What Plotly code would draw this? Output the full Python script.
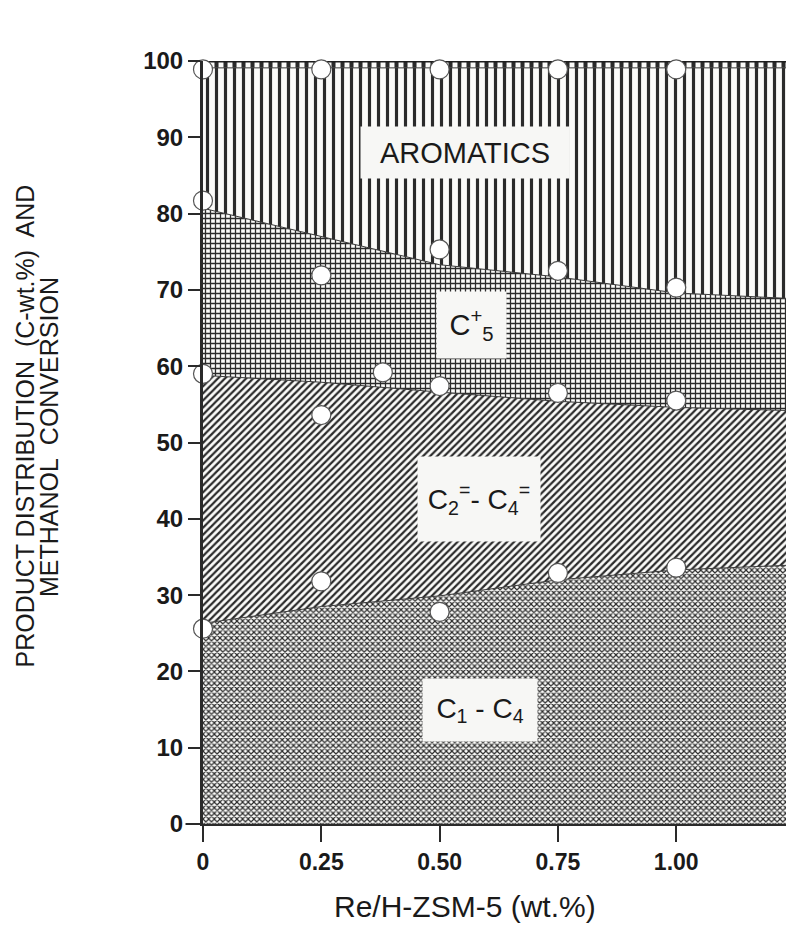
import plotly.graph_objects as go

# ---------------- data ----------------
# smooth boundary curves between product regions (C-wt.%)
x_bound = [0, 0.25, 0.50, 0.75, 1.00, 1.232]
c1c4_top = [26.3, 28.5, 29.9, 32.0, 33.3, 33.9]
c2c4_top = [58.8, 57.9, 56.6, 55.4, 54.6, 54.2]
c5_top = [80.7, 77.0, 73.3, 71.7, 69.6, 68.9]
arom_top = [99.1, 99.1, 99.1, 99.1, 99.1, 99.1]
co2_top = [100, 100, 100, 100, 100, 100]

# measured points
x_pts = [0, 0.25, 0.50, 0.75, 1.00]
pts_arom = [98.9, 98.9, 98.9, 98.9, 98.9]
pts_c5 = [81.7, 71.9, 75.3, 72.5, 70.3]
x_pts_c2 = [0, 0.25, 0.38, 0.50, 0.75, 1.00]
pts_c2 = [59.0, 53.6, 59.2, 57.4, 56.5, 55.5]
pts_c1 = [25.6, 31.8, 27.8, 32.9, 33.6]

x_ticks = [0, 0.25, 0.50, 0.75, 1.00]
x_ticklabels = ["0", "0.25", "0.50", "0.75", "1.00"]
y_ticks = [0, 10, 20, 30, 40, 50, 60, 70, 80, 90, 100]

FG = "#2b2b2b"
BG = "#fbfbf9"
LINE = "#3a3a3a"

fig = go.Figure()

def band(y, fill, shape, size, solidity, name):
    fig.add_trace(go.Scatter(
        x=x_bound, y=y, mode="lines", fill=fill, name=name,
        line=dict(color=LINE, width=1),
        fillcolor=BG,
        fillpattern=dict(shape=shape, size=size, solidity=solidity,
                         fgcolor=FG, bgcolor=BG, fillmode="replace"),
        showlegend=False, hoverinfo="skip"))

band(c1c4_top, "tozeroy", "x", 4, 0.5, "C1-C4")
band(c2c4_top, "tonexty", "/", 5, 0.45, "C2=-C4=")
band(c5_top, "tonexty", "+", 5, 0.45, "C5+")
band(arom_top, "tonexty", "|", 9, 0.35, "Aromatics")
band(co2_top, "tonexty", "|", 9, 0.45, "CO2")
fig.data[-1].line.width = 3
fig.data[-1].line.color = "#1e1e1e"

marker = dict(size=19, color="white", line=dict(color="#555555", width=1.2))
for xs, ys in [(x_pts, pts_arom), (x_pts, pts_c5), (x_pts_c2, pts_c2), (x_pts, pts_c1)]:
    fig.add_trace(go.Scatter(x=xs, y=ys, mode="markers", marker=marker,
                             cliponaxis=False, showlegend=False, hoverinfo="skip"))

font_main = "Liberation Sans, Arial, Helvetica, sans-serif"

def label(text, x, y, w, h, size=29):
    fig.add_annotation(x=x, y=y, xref="x", yref="y", text=text, showarrow=False,
                       xanchor="center", yanchor="middle",
                       width=w, height=h, bgcolor="#f7f7f5",
                       font=dict(family=font_main, size=size, color="#1a1a1a"))

label("AROMATICS", 0.553, 88.0, 206, 49)
label("C<sup>+</sup><sub>5</sub>", 0.567, 65.4, 67, 64)
label("C<sub>2</sub><sup>=</sup>- C<sub>4</sub><sup>=</sup>", 0.584, 42.6, 120, 82, 28)
label("C<sub>1</sub> - C<sub>4</sub>", 0.586, 14.9, 112, 60, 28)

fig.add_annotation(x=0.951, y=104.2, xref="x", yref="y", text="CO<sub>2</sub>",
                   xanchor="center", yanchor="middle",
                   showarrow=False, font=dict(family=font_main, size=26, color="#1a1a1a"))

# axis titles (placed to match the reference layout)
fig.add_annotation(xref="paper", yref="paper", x=(465 - 203) / 583, y=(824 - 906) / 763,
                   xanchor="center", yanchor="middle", text="Re/H-ZSM-5 (wt.%)",
                   showarrow=False, font=dict(family=font_main, size=30, color="#1a1a1a"))
fig.add_annotation(xref="paper", yref="paper", x=(25 - 203) / 583, y=(824 - 426.5) / 763,
                   xanchor="center", yanchor="middle",
                   text="PRODUCT DISTRIBUTION  (C-wt.%)  AND", textangle=-90, showarrow=False,
                   font=dict(family=font_main, size=25, color="#1a1a1a"))
fig.add_annotation(xref="paper", yref="paper", x=(49 - 203) / 583, y=(824 - 437) / 763,
                   xanchor="center", yanchor="middle",
                   text="METHANOL  CONVERSION", textangle=-90, showarrow=False,
                   font=dict(family=font_main, size=25, color="#1a1a1a"))

# small leftward extension of the x axis line
fig.add_shape(type="line", xref="paper", yref="paper", x0=-0.03, x1=0, y0=0, y1=0,
              line=dict(color="#2a2a2a", width=2))

fig.update_layout(
    width=786, height=936,
    margin=dict(l=203, r=0, t=61, b=112),
    paper_bgcolor="white", plot_bgcolor="white",
    font=dict(family=font_main, color="#1a1a1a"),
    xaxis=dict(range=[0, 1.232], tickvals=x_ticks, ticktext=x_ticklabels,
               showgrid=False, zeroline=False, showline=True, linecolor="#2a2a2a",
               linewidth=2, ticks="outside", ticklen=16, tickwidth=2, tickcolor="#2a2a2a",
               tickfont=dict(size=23, family="Liberation Sans, Arial", weight="bold")),
    yaxis=dict(range=[0, 100], tickvals=y_ticks, showgrid=False, zeroline=False,
               showline=True, linecolor="#2a2a2a", linewidth=3, ticks="outside",
               ticklen=12, tickwidth=2, tickcolor="#2a2a2a",
               tickfont=dict(size=24, family="Liberation Sans, Arial", weight="bold")),
)

fig.write_html("out.html")
